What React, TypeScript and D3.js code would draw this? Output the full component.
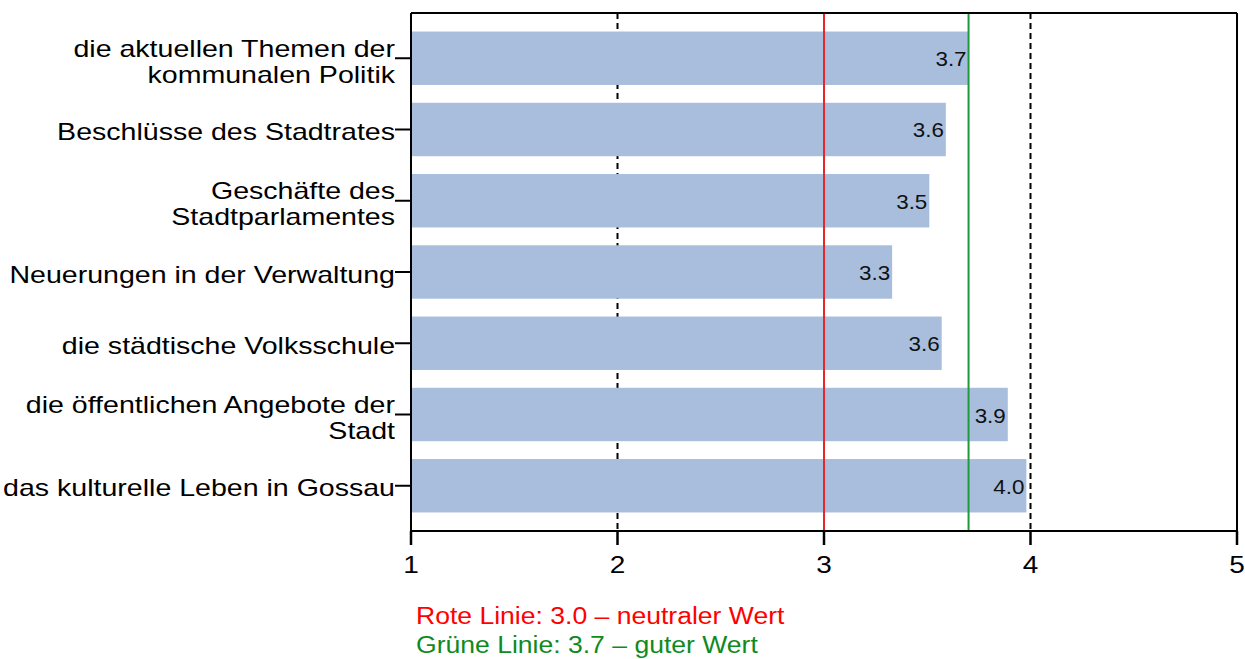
import React from "react";
import * as d3 from "d3";

const categories: string[][] = [
  ["die aktuellen Themen der", "kommunalen Politik"],
  ["Beschlüsse des Stadtrates"],
  ["Geschäfte des", "Stadtparlamentes"],
  ["Neuerungen in der Verwaltung"],
  ["die städtische Volksschule"],
  ["die öffentlichen Angebote der", "Stadt"],
  ["das kulturelle Leben in Gossau"],
];
const values: number[] = [3.7, 3.59, 3.51, 3.33, 3.57, 3.89, 3.98];
const xTicks: number[] = [1, 2, 3, 4, 5];
const dashedLines: number[] = [2, 4];
const redLine = 3.0;
const greenLine = 3.7;
const legendLines: string[] = [
  "Rote Linie: 3.0 – neutraler Wert",
  "Grüne Linie: 3.7 – guter Wert",
];

const W = 1245;
const H = 659;
const left = 411;
const right = 1237;
const top = 13;
const bottom = 531;
const FONT = "'Liberation Sans', Arial, sans-serif";
const SX = 1.19;

export default function App() {
  const x = d3.scaleLinear().domain([1, 5]).range([left, right]);
  const ids = categories.map((_, i) => String(i));
  const y = d3
    .scaleBand<string>()
    .domain(ids)
    .range([top, bottom])
    .paddingInner(0.25)
    .paddingOuter(0.26);
  const fmt = d3.format(".1f");
  const bw = y.bandwidth();

  return (
    <svg
      width={W}
      height={H}
      style={{ position: "absolute", left: 0, top: 0, background: "#fff" }}
      fontFamily={FONT}
    >
      {/* dashed grid lines */}
      {dashedLines.map((v) => (
        <line
          key={"d" + v}
          x1={x(v)}
          x2={x(v)}
          y1={top}
          y2={bottom}
          stroke="#000"
          strokeWidth={2}
          strokeDasharray="6,4"
        />
      ))}
      {/* bars */}
      {values.map((v, i) => (
        <rect
          key={"b" + i}
          x={x(1)}
          y={y(ids[i])}
          width={x(v) - x(1)}
          height={bw}
          fill="#a8bedc"
        />
      ))}
      {/* reference lines */}
      <line x1={x(redLine)} x2={x(redLine)} y1={top} y2={bottom} stroke="#e8262a" strokeWidth={2} />
      <line x1={x(greenLine)} x2={x(greenLine)} y1={top} y2={bottom} stroke="#1f9a3a" strokeWidth={2} />
      {/* value labels */}
      {values.map((v, i) => (
        <text
          key={"v" + i}
          transform={`translate(${x(v) - 2},${(y(ids[i]) as number) + bw / 2 + 8}) scale(1.12,1)`}
          textAnchor="end"
          fontSize={20}
          fill="#111"
        >
          {fmt(v)}
        </text>
      ))}
      {/* frame */}
      <line x1={left} x2={right} y1={top} y2={top} stroke="#000" strokeWidth={2} />
      <line x1={right} x2={right} y1={top} y2={bottom} stroke="#000" strokeWidth={2} />
      <line x1={left} x2={left} y1={top} y2={bottom} stroke="#000" strokeWidth={2} />
      <line x1={left} x2={right} y1={bottom} y2={bottom} stroke="#000" strokeWidth={2} />
      {/* x ticks */}
      {xTicks.map((t) => (
        <g key={"t" + t}>
          <line x1={x(t)} x2={x(t)} y1={bottom} y2={bottom + 14} stroke="#000" strokeWidth={2.5} />
          <text
            transform={`translate(${x(t)},${bottom + 42}) scale(${SX},1)`}
            textAnchor="middle"
            fontSize={23.5}
            fill="#000"
          >
            {t}
          </text>
        </g>
      ))}
      {/* y ticks and labels */}
      {categories.map((lines, i) => {
        const cy = (y(ids[i]) as number) + bw / 2;
        return (
          <g key={"c" + i}>
            <line x1={left - 16} x2={left} y1={cy} y2={cy} stroke="#000" strokeWidth={2} />
            {lines.map((ln, j) => {
              const base =
                lines.length === 1 ? cy + 10.5 : j === 0 ? cy - 1.5 : cy + 24.5;
              return (
                <text
                  key={j}
                  transform={`translate(395,${base}) scale(${SX},1)`}
                  textAnchor="end"
                  fontSize={24}
                  fill="#000"
                >
                  {ln}
                </text>
              );
            })}
          </g>
        );
      })}
      {/* legend */}
      {legendLines.map((t, i) => (
        <text
          key={"l" + i}
          transform={`translate(416,${624 + i * 29}) scale(1.13,1)`}
          fontSize={23.5}
          fill={i === 0 ? "#ff0000" : "#108a1e"}
        >
          {t}
        </text>
      ))}
    </svg>
  );
}
